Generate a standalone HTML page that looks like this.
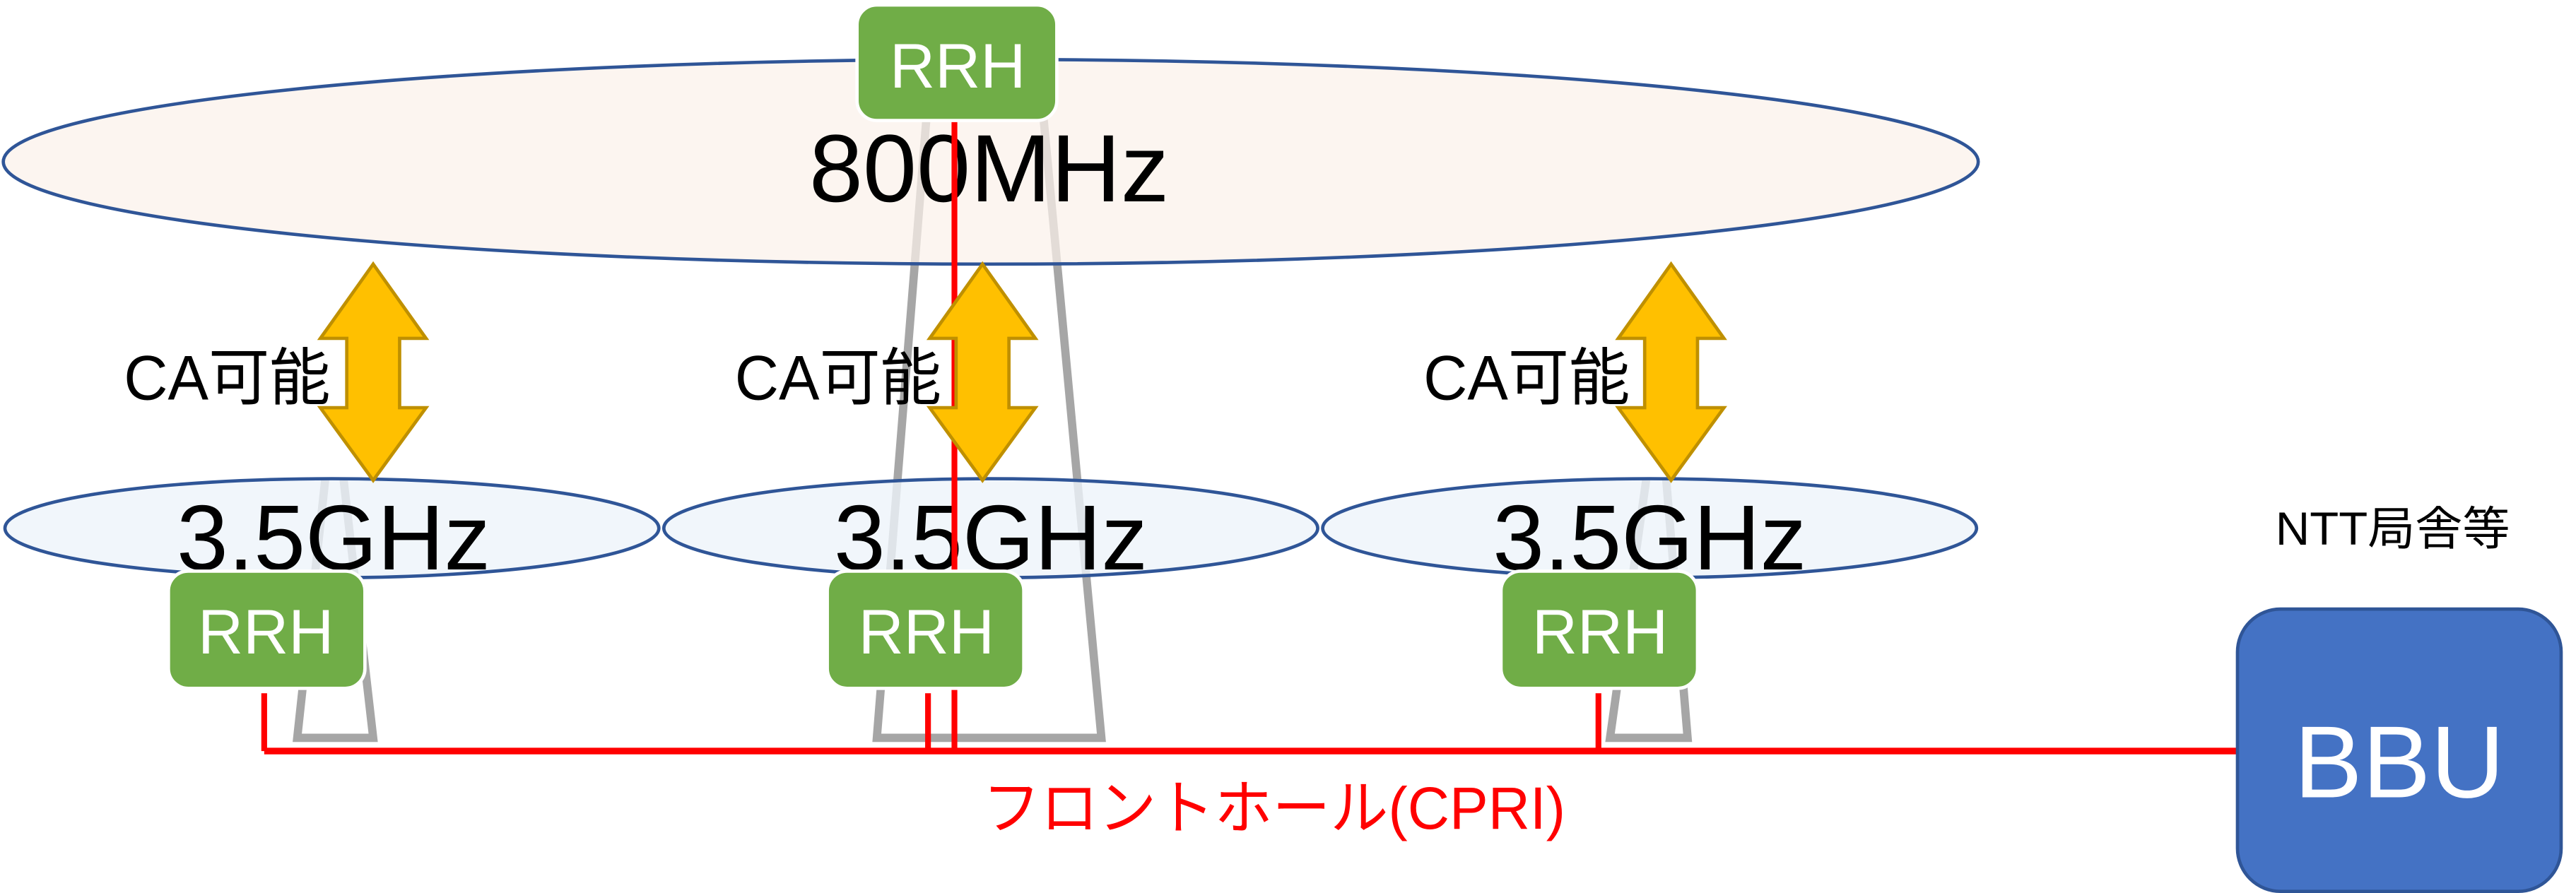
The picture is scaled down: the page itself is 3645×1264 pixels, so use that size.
<!DOCTYPE html>
<html><head><meta charset="utf-8"><style>
html,body{margin:0;padding:0;background:#fff;}
svg{display:block;}
text{font-family:"Liberation Sans","Noto Sans CJK JP",sans-serif;}
</style></head><body>
<svg width="3645" height="1264" viewBox="0 0 1560 541" preserveAspectRatio="none" xmlns="http://www.w3.org/2000/svg">
<g fill="none" stroke="#A6A6A6" stroke-width="5" stroke-linejoin="miter">
<polyline points="197,290 180,447 226,447 208,290"/>
<polyline points="561,72 531,447 667,447 632,72"/>
<polyline points="997,290 975,447 1022,447 1009,290"/>
</g>
<ellipse cx="600" cy="98" rx="598" ry="62" fill="#FBF1EA" fill-opacity="0.72" stroke="#2F5597" stroke-width="2"/>
<ellipse cx="201" cy="320" rx="198" ry="30" fill="#EEF4FA" fill-opacity="0.8" stroke="#2F5597" stroke-width="2"/>
<ellipse cx="600" cy="320" rx="198" ry="30" fill="#EEF4FA" fill-opacity="0.8" stroke="#2F5597" stroke-width="2"/>
<ellipse cx="999" cy="320" rx="198" ry="30" fill="#EEF4FA" fill-opacity="0.8" stroke="#2F5597" stroke-width="2"/>
<text x="599" y="122" font-size="58" text-anchor="middle" fill="#000" textLength="218" lengthAdjust="spacingAndGlyphs">800MHz</text>
<text x="202" y="345" font-size="56" text-anchor="middle" fill="#000" textLength="190" lengthAdjust="spacingAndGlyphs">3.5GHz</text>
<text x="600" y="345" font-size="56" text-anchor="middle" fill="#000" textLength="190" lengthAdjust="spacingAndGlyphs">3.5GHz</text>
<text x="999" y="345" font-size="56" text-anchor="middle" fill="#000" textLength="190" lengthAdjust="spacingAndGlyphs">3.5GHz</text>
<g stroke="#FF0000" stroke-width="3.5" fill="none">
<line x1="578" y1="72" x2="578" y2="455"/>
<line x1="160" y1="420" x2="160" y2="455"/>
<line x1="562" y1="420" x2="562" y2="455"/>
<line x1="968" y1="420" x2="968" y2="455"/>
<line x1="160" y1="455" x2="1355" y2="455" stroke-width="4"/>
</g>
<g fill="#FFC000" stroke="#BF9000" stroke-width="2">
<path d="M226,160 L258,205 L242,205 L242,247 L258,247 L226,291 L194,247 L210,247 L210,205 L194,205 Z"/>
<path d="M595,160 L627,205 L611,205 L611,247 L627,247 L595,291 L563,247 L579,247 L579,205 L563,205 Z"/>
<path d="M1012,160 L1044,205 L1028,205 L1028,247 L1044,247 L1012,291 L980,247 L996,247 L996,205 L980,205 Z"/>
</g>
<text x="75" y="242" font-size="38" fill="#000" textLength="125" lengthAdjust="spacingAndGlyphs">CA可能</text>
<text x="445" y="242" font-size="38" fill="#000" textLength="125" lengthAdjust="spacingAndGlyphs">CA可能</text>
<text x="862" y="242" font-size="38" fill="#000" textLength="125" lengthAdjust="spacingAndGlyphs">CA可能</text>
<g fill="#70AD47" stroke="#fff" stroke-width="2">
<rect x="519" y="3" width="121" height="70" rx="12"/>
<rect x="102" y="346" width="119" height="71" rx="12"/>
<rect x="501" y="346" width="119" height="71" rx="12"/>
<rect x="909" y="346" width="119" height="71" rx="12"/>
</g>
<g font-size="38" fill="#fff" text-anchor="middle">
<text x="580" y="53">RRH</text>
<text x="161" y="396">RRH</text>
<text x="561" y="396">RRH</text>
<text x="969" y="396">RRH</text>
</g>
<text x="1378" y="330" font-size="28" fill="#000" textLength="142" lengthAdjust="spacingAndGlyphs">NTT局舎等</text>
<rect x="1355" y="369" width="196" height="171" rx="26" fill="#4472C4" stroke="#2F5597" stroke-width="2"/>
<text x="1453" y="483" font-size="62" text-anchor="middle" fill="#fff">BBU</text>
<text x="595" y="502" font-size="36" fill="#FF0000" textLength="353" lengthAdjust="spacingAndGlyphs">フロントホール(CPRI)</text>
</svg>
</body></html>
